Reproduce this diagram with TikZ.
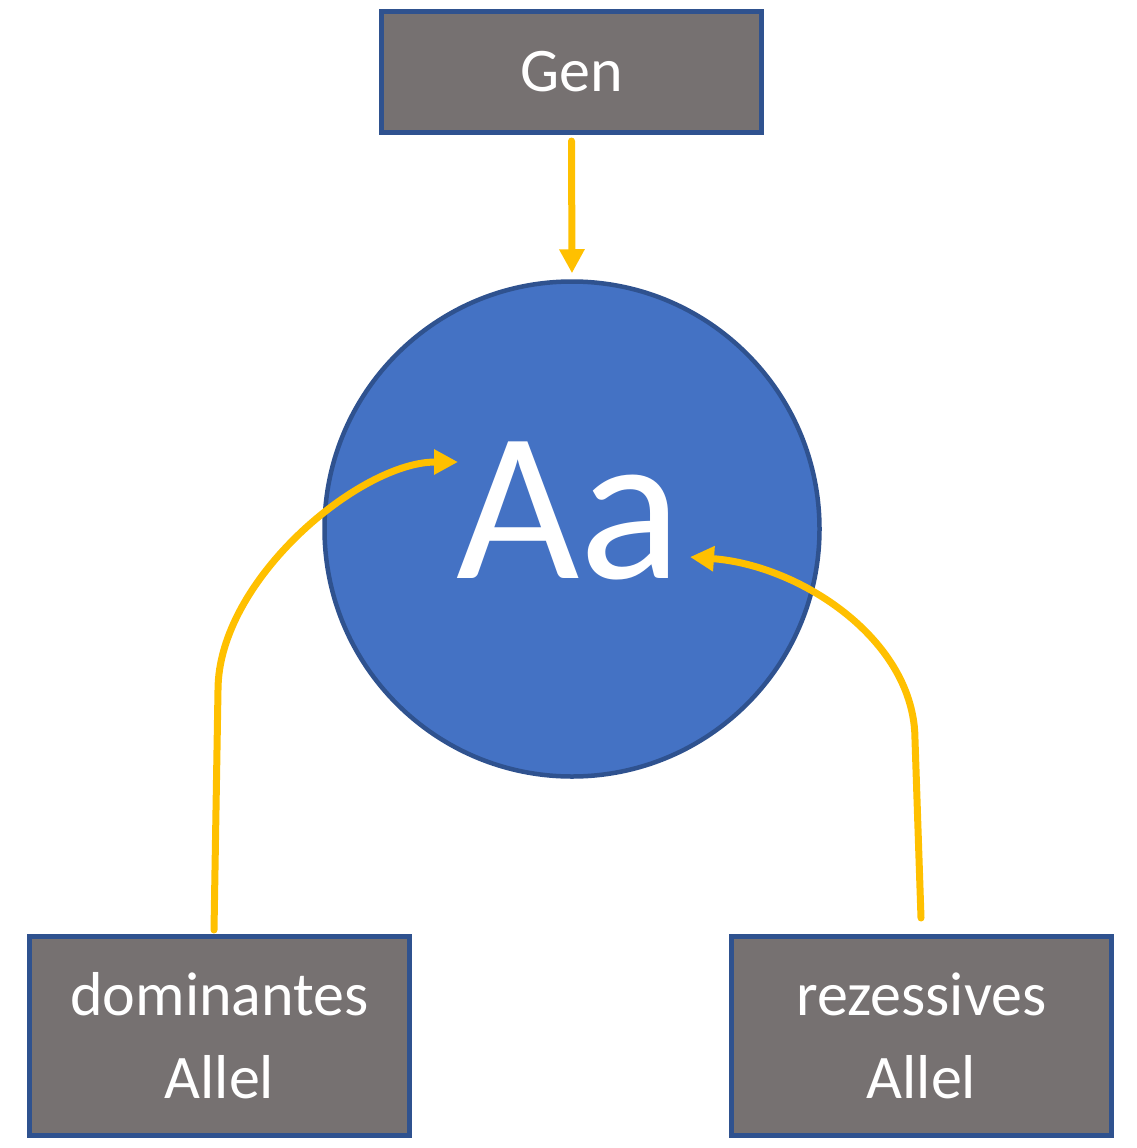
\documentclass[tikz,border=0pt]{standalone}
\usepackage{fontspec}
\setmainfont{Carlito}
\usetikzlibrary{arrows.meta,calc}
\definecolor{boxgray}{HTML}{767171}
\definecolor{edgeblue}{HTML}{2F528F}
\definecolor{fillblue}{HTML}{4472C4}
\definecolor{arrowyellow}{HTML}{FFC000}
\begin{document}
\begin{tikzpicture}[x=1pt,y=-1pt,
  graybox/.style={draw=edgeblue,fill=boxgray,line width=5pt,minimum width=380pt,
    text=white,align=center,inner sep=0pt,font=\fontsize{62}{83}\selectfont},
  yarrow/.style={draw=arrowyellow,line width=7pt,line cap=round,
    -{Triangle[length=24pt,width=24pt]}}]
\useasboundingbox (0,0) rectangle (1137,1148);
\node[graybox,minimum height=121pt] (gen) at (571.5,72) {Gen};
\node[graybox,minimum height=199pt] (dom) at (219.5,1036) {dominantes\\Allel};
\node[graybox,minimum height=199pt] (rez) at (921.5,1036) {rezessives\\Allel};
\node[circle,draw=edgeblue,fill=fillblue,line width=4.5pt,minimum size=495pt,inner sep=0pt] (aa) at (572,529) {};
\node[text=white,inner sep=0pt,font=\fontsize{213}{213}\selectfont] (aatext) at ($(aa.center)+(-3,-18)$) {Aa};
\coordinate (domstart) at ($(dom.north)+(-5.5,-4)$);
\coordinate (rezstart) at ($(rez.north)+(-0.5,-16)$);
\coordinate (domtip) at (458,462);
\coordinate (reztip) at (690,557);
\draw[yarrow,shorten <=6pt,shorten >=6pt] (gen.south) -- (aa.north);
\draw[yarrow] (domstart) -- (218,690) .. controls (218,580) and (360,462) .. (domtip);
\draw[yarrow] (rezstart) -- (915,740) .. controls (915,640) and (800,565) .. (reztip);
\end{tikzpicture}
\end{document}
